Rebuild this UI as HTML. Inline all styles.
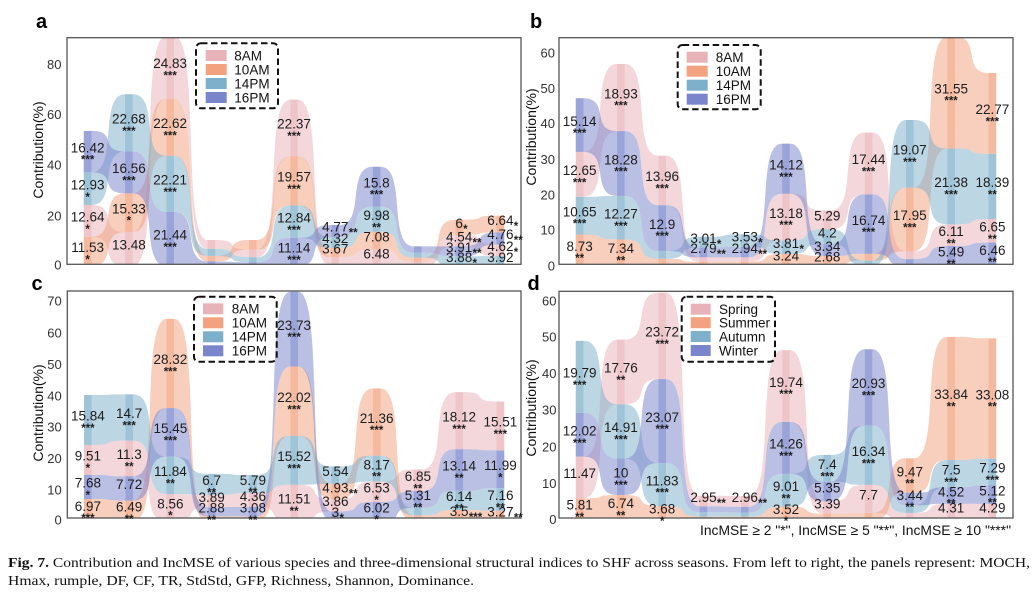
<!DOCTYPE html>
<html><head><meta charset="utf-8">
<style>
html,body{margin:0;padding:0;background:#fff;}
svg{display:block;font-family:"Liberation Sans",Arial,sans-serif;}
.n{font-size:13.5px;fill:#1c1c1c;text-anchor:middle;}
.s{font-size:11.5px;font-weight:bold;fill:#1c1c1c;}
.sb{text-anchor:middle;}
.si{text-anchor:start;}
.t{font-size:13px;fill:#333;text-anchor:end;}
.yl{font-size:14px;fill:#111;text-anchor:middle;}
.pl{font-size:20px;font-weight:bold;fill:#000;}
.lg{font-size:13.5px;fill:#111;}
.cap{font-family:"Liberation Serif",serif;font-size:14px;fill:#111;}
</style></head><body>
<svg width="1034" height="594" viewBox="0 0 1034 594" xmlns="http://www.w3.org/2000/svg">
<defs>
<clipPath id="ca"><rect x="67" y="37.7" width="454" height="226.6"/></clipPath>
<clipPath id="cb"><rect x="559" y="37.7" width="454" height="226.6"/></clipPath>
<clipPath id="cc"><rect x="67.3" y="291" width="453.7" height="227"/></clipPath>
<clipPath id="cd"><rect x="559" y="291.3" width="454" height="226.7"/></clipPath>
</defs>

<text class="pl" x="36" y="28">a</text>
<text class="pl" x="530" y="28">b</text>
<text class="pl" x="31.5" y="290">c</text>
<text class="pl" x="527.5" y="290">d</text>

<text class="yl" transform="translate(43,150) rotate(-90)">Contribution(%)</text>
<text class="yl" transform="translate(536,137) rotate(-90)">Contribution(%)</text>
<text class="yl" transform="translate(43,413) rotate(-90)">Contribution(%)</text>
<text class="yl" transform="translate(536,408) rotate(-90)">Contribution(%)</text>

<g>
<text class="t" x="61.5" y="269.5">0</text>
<text class="t" x="61.5" y="220.3">20</text>
<text class="t" x="61.5" y="169.6">40</text>
<text class="t" x="61.5" y="119">60</text>
<text class="t" x="61.5" y="69">80</text>

<text class="t" x="555" y="270.6">0</text>
<text class="t" x="555" y="234.6">10</text>
<text class="t" x="555" y="199.6">20</text>
<text class="t" x="555" y="164">30</text>
<text class="t" x="555" y="128">40</text>
<text class="t" x="555" y="93">50</text>
<text class="t" x="555" y="57.3">60</text>

<text class="t" x="61.7" y="524.6">0</text>
<text class="t" x="61.7" y="494.6">10</text>
<text class="t" x="61.7" y="463">20</text>
<text class="t" x="61.7" y="431.3">30</text>
<text class="t" x="61.7" y="400.6">40</text>
<text class="t" x="61.7" y="369">50</text>
<text class="t" x="61.7" y="337.3">60</text>
<text class="t" x="61.7" y="305.3">70</text>

<text class="t" x="556.5" y="524">0</text>
<text class="t" x="556.5" y="488">10</text>
<text class="t" x="556.5" y="451.3">20</text>
<text class="t" x="556.5" y="414.6">30</text>
<text class="t" x="556.5" y="378">40</text>
<text class="t" x="556.5" y="341.3">50</text>
<text class="t" x="556.5" y="305.3">60</text>
</g>

<g id="ga" clip-path="url(#ca)"></g>
<g id="gb" clip-path="url(#cb)"></g>
<g id="gc" clip-path="url(#cc)"></g>
<g id="gd" clip-path="url(#cd)"></g>

<g fill="none" stroke="#555" stroke-width="1.3">
<rect x="67" y="37.7" width="454" height="226.6"/>
<rect x="559" y="37.7" width="454" height="226.6"/>
<rect x="67.3" y="291" width="453.7" height="227"/>
<rect x="559" y="291.3" width="454" height="226.7"/>
</g>

<g>
<rect x="196" y="43.3" width="82" height="65" rx="5" fill="none" stroke="#111" stroke-width="2" stroke-dasharray="6.5 3.5"/>
<rect x="205.7" y="50" width="21" height="11" fill="#e8b3b8"/>
<rect x="205.7" y="64" width="21" height="11" fill="#f2a27f"/>
<rect x="205.7" y="78" width="21" height="11" fill="#7fb0cb"/>
<rect x="205.7" y="92" width="21" height="11" fill="#7a85cc"/>
<text class="lg" x="234.3" y="60.3">8AM</text>
<text class="lg" x="234.3" y="74.3">10AM</text>
<text class="lg" x="234.3" y="88.3">14PM</text>
<text class="lg" x="234.3" y="102.3">16PM</text>

<rect x="677.7" y="45" width="83" height="64.3" rx="5" fill="none" stroke="#111" stroke-width="2" stroke-dasharray="6.5 3.5"/>
<rect x="686.7" y="51.7" width="21" height="11" fill="#e8b3b8"/>
<rect x="686.7" y="65.7" width="21" height="11" fill="#f2a27f"/>
<rect x="686.7" y="79.7" width="21" height="11" fill="#7fb0cb"/>
<rect x="686.7" y="93.7" width="21" height="11" fill="#7a85cc"/>
<text class="lg" x="715.7" y="62">8AM</text>
<text class="lg" x="715.7" y="76">10AM</text>
<text class="lg" x="715.7" y="90">14PM</text>
<text class="lg" x="715.7" y="104">16PM</text>

<rect x="194" y="296.7" width="82.7" height="65" rx="5" fill="none" stroke="#111" stroke-width="2" stroke-dasharray="6.5 3.5"/>
<rect x="203" y="303.3" width="20.3" height="11" fill="#e8b3b8"/>
<rect x="203" y="317.3" width="20.3" height="11" fill="#f2a27f"/>
<rect x="203" y="331.3" width="20.3" height="11" fill="#7fb0cb"/>
<rect x="203" y="345.3" width="20.3" height="11" fill="#7a85cc"/>
<text class="lg" x="231.7" y="313.6">8AM</text>
<text class="lg" x="231.7" y="327.6">10AM</text>
<text class="lg" x="231.7" y="341.6">14PM</text>
<text class="lg" x="231.7" y="355.6">16PM</text>

<rect x="681.7" y="296.7" width="93.3" height="65" rx="5" fill="none" stroke="#111" stroke-width="2" stroke-dasharray="6.5 3.5"/>
<rect x="690.7" y="303.7" width="20" height="11" fill="#e8b3b8"/>
<rect x="690.7" y="317.2" width="20" height="11" fill="#f2a27f"/>
<rect x="690.7" y="331" width="20" height="11" fill="#7fb0cb"/>
<rect x="690.7" y="345" width="20" height="11" fill="#7a85cc"/>
<text class="lg" x="719" y="314">Spring</text>
<text class="lg" x="719" y="327.5">Summer</text>
<text class="lg" x="719" y="341.3">Autumn</text>
<text class="lg" x="719" y="355.3">Winter</text>
</g>

<g>
<text id="a0_0" class="n">12.64</text><text id="a0_0s" class="s sb">*</text>
<text id="a0_1" class="n">11.53</text><text id="a0_1s" class="s sb">*</text>
<text id="a0_2" class="n">12.93</text><text id="a0_2s" class="s sb">*</text>
<text id="a0_3" class="n">16.42</text><text id="a0_3s" class="s sb">***</text>
<text id="a1_0" class="n">13.48</text>
<text id="a1_1" class="n">15.33</text><text id="a1_1s" class="s sb">*</text>
<text id="a1_2" class="n">22.68</text><text id="a1_2s" class="s sb">***</text>
<text id="a1_3" class="n">16.56</text><text id="a1_3s" class="s sb">***</text>
<text id="a2_0" class="n">24.83</text><text id="a2_0s" class="s sb">***</text>
<text id="a2_1" class="n">22.62</text><text id="a2_1s" class="s sb">***</text>
<text id="a2_2" class="n">22.21</text><text id="a2_2s" class="s sb">***</text>
<text id="a2_3" class="n">21.44</text><text id="a2_3s" class="s sb">***</text>
<text id="a5_0" class="n">22.37</text><text id="a5_0s" class="s sb">***</text>
<text id="a5_1" class="n">19.57</text><text id="a5_1s" class="s sb">***</text>
<text id="a5_2" class="n">12.84</text><text id="a5_2s" class="s sb">***</text>
<text id="a5_3" class="n">11.14</text><text id="a5_3s" class="s sb">***</text>
<text id="a6_1" class="n">3.67</text>
<text id="a6_2" class="n">4.32</text>
<text id="a6_3" class="n">4.77</text><text id="a6_3s" class="s si">**</text>
<text id="a7_0" class="n">6.48</text>
<text id="a7_1" class="n">7.08</text>
<text id="a7_2" class="n">9.98</text><text id="a7_2s" class="s sb">**</text>
<text id="a7_3" class="n">15.8</text><text id="a7_3s" class="s sb">***</text>
<text id="a9_0" class="n">4.54</text><text id="a9_0s" class="s si">**</text>
<text id="a9_1" class="n">6</text><text id="a9_1s" class="s si">*</text>
<text id="a9_2" class="n">3.88</text><text id="a9_2s" class="s si">*</text>
<text id="a9_3" class="n">3.91</text><text id="a9_3s" class="s si">**</text>
<text id="a10_0" class="n">4.62</text><text id="a10_0s" class="s si">*</text>
<text id="a10_1" class="n">6.64</text><text id="a10_1s" class="s si">*</text>
<text id="a10_2" class="n">3.92</text>
<text id="a10_3" class="n">4.76</text><text id="a10_3s" class="s si">**</text>
</g>

<g>
<text id="b0_0" class="n">12.65</text><text id="b0_0s" class="s sb">***</text>
<text id="b0_1" class="n">8.73</text><text id="b0_1s" class="s sb">**</text>
<text id="b0_2" class="n">10.65</text><text id="b0_2s" class="s sb">***</text>
<text id="b0_3" class="n">15.14</text><text id="b0_3s" class="s sb">***</text>
<text id="b1_0" class="n">18.93</text><text id="b1_0s" class="s sb">***</text>
<text id="b1_1" class="n">7.34</text><text id="b1_1s" class="s sb">**</text>
<text id="b1_2" class="n">12.27</text><text id="b1_2s" class="s sb">***</text>
<text id="b1_3" class="n">18.28</text><text id="b1_3s" class="s sb">***</text>
<text id="b2_0" class="n">13.96</text><text id="b2_0s" class="s sb">***</text>
<text id="b2_3" class="n">12.9</text><text id="b2_3s" class="s sb">***</text>
<text id="b3_2" class="n">3.01</text><text id="b3_2s" class="s si">*</text>
<text id="b3_3" class="n">2.79</text><text id="b3_3s" class="s si">**</text>
<text id="b4_2" class="n">3.53</text><text id="b4_2s" class="s si">*</text>
<text id="b4_3" class="n">2.94</text><text id="b4_3s" class="s si">**</text>
<text id="b5_0" class="n">13.18</text><text id="b5_0s" class="s sb">***</text>
<text id="b5_1" class="n">3.24</text>
<text id="b5_2" class="n">3.81</text><text id="b5_2s" class="s si">*</text>
<text id="b5_3" class="n">14.12</text><text id="b5_3s" class="s sb">***</text>
<text id="b6_0" class="n">5.29</text>
<text id="b6_1" class="n">2.68</text>
<text id="b6_2" class="n">4.2</text>
<text id="b6_3" class="n">3.34</text>
<text id="b7_0" class="n">17.44</text><text id="b7_0s" class="s sb">***</text>
<text id="b7_3" class="n">16.74</text><text id="b7_3s" class="s sb">***</text>
<text id="b8_1" class="n">17.95</text><text id="b8_1s" class="s sb">***</text>
<text id="b8_2" class="n">19.07</text><text id="b8_2s" class="s sb">***</text>
<text id="b9_0" class="n">6.11</text><text id="b9_0s" class="s sb">**</text>
<text id="b9_1" class="n">31.55</text><text id="b9_1s" class="s sb">***</text>
<text id="b9_2" class="n">21.38</text><text id="b9_2s" class="s sb">***</text>
<text id="b9_3" class="n">5.49</text><text id="b9_3s" class="s sb">**</text>
<text id="b10_0" class="n">6.65</text><text id="b10_0s" class="s sb">**</text>
<text id="b10_1" class="n">22.77</text><text id="b10_1s" class="s sb">***</text>
<text id="b10_2" class="n">18.39</text><text id="b10_2s" class="s sb">**</text>
<text id="b10_3" class="n">6.46</text><text id="b10_3s" class="s sb">**</text>
</g>

<g>
<text id="c0_0" class="n">9.51</text><text id="c0_0s" class="s sb">*</text>
<text id="c0_1" class="n">6.97</text><text id="c0_1s" class="s sb">***</text>
<text id="c0_2" class="n">15.84</text><text id="c0_2s" class="s sb">***</text>
<text id="c0_3" class="n">7.68</text><text id="c0_3s" class="s sb">*</text>
<text id="c1_0" class="n">11.3</text><text id="c1_0s" class="s sb">**</text>
<text id="c1_1" class="n">6.49</text><text id="c1_1s" class="s sb">**</text>
<text id="c1_2" class="n">14.7</text><text id="c1_2s" class="s sb">***</text>
<text id="c1_3" class="n">7.72</text>
<text id="c2_0" class="n">8.56</text><text id="c2_0s" class="s sb">*</text>
<text id="c2_1" class="n">28.32</text><text id="c2_1s" class="s sb">***</text>
<text id="c2_2" class="n">11.84</text><text id="c2_2s" class="s sb">**</text>
<text id="c2_3" class="n">15.45</text><text id="c2_3s" class="s sb">***</text>
<text id="c3_0" class="n">3.89</text>
<text id="c3_2" class="n">6.7</text><text id="c3_2s" class="s sb">**</text>
<text id="c3_3" class="n">2.88</text><text id="c3_3s" class="s sb">**</text>
<text id="c4_0" class="n">4.36</text>
<text id="c4_2" class="n">5.79</text><text id="c4_2s" class="s sb">**</text>
<text id="c4_3" class="n">3.08</text><text id="c4_3s" class="s sb">**</text>
<text id="c5_0" class="n">11.51</text><text id="c5_0s" class="s sb">**</text>
<text id="c5_1" class="n">22.02</text><text id="c5_1s" class="s sb">***</text>
<text id="c5_2" class="n">15.52</text><text id="c5_2s" class="s sb">***</text>
<text id="c5_3" class="n">23.73</text><text id="c5_3s" class="s sb">***</text>
<text id="c6_0" class="n">3.86</text>
<text id="c6_1" class="n">4.93</text><text id="c6_1s" class="s si">**</text>
<text id="c6_2" class="n">5.54</text>
<text id="c6_3" class="n">3</text><text id="c6_3s" class="s si">*</text>
<text id="c7_0" class="n">6.53</text><text id="c7_0s" class="s sb">*</text>
<text id="c7_1" class="n">21.36</text><text id="c7_1s" class="s sb">***</text>
<text id="c7_2" class="n">8.17</text><text id="c7_2s" class="s sb">**</text>
<text id="c7_3" class="n">6.02</text><text id="c7_3s" class="s sb">*</text>
<text id="c8_0" class="n">6.85</text><text id="c8_0s" class="s sb">**</text>
<text id="c8_3" class="n">5.31</text><text id="c8_3s" class="s sb">**</text>
<text id="c9_0" class="n">18.12</text><text id="c9_0s" class="s sb">***</text>
<text id="c9_1" class="n">3.5</text><text id="c9_1s" class="s si">***</text>
<text id="c9_2" class="n">6.14</text><text id="c9_2s" class="s sb">**</text>
<text id="c9_3" class="n">13.14</text><text id="c9_3s" class="s sb">**</text>
<text id="c10_0" class="n">15.51</text><text id="c10_0s" class="s sb">***</text>
<text id="c10_1" class="n">3.27</text><text id="c10_1s" class="s si">**</text>
<text id="c10_2" class="n">7.16</text><text id="c10_2s" class="s sb">**</text>
<text id="c10_3" class="n">11.99</text><text id="c10_3s" class="s sb">*</text>
</g>

<g>
<text id="d0_0" class="n">11.47</text>
<text id="d0_1" class="n">5.81</text><text id="d0_1s" class="s sb">**</text>
<text id="d0_2" class="n">19.79</text><text id="d0_2s" class="s sb">***</text>
<text id="d0_3" class="n">12.02</text><text id="d0_3s" class="s sb">***</text>
<text id="d1_0" class="n">17.76</text><text id="d1_0s" class="s sb">**</text>
<text id="d1_1" class="n">6.74</text><text id="d1_1s" class="s sb">**</text>
<text id="d1_2" class="n">14.91</text><text id="d1_2s" class="s sb">***</text>
<text id="d1_3" class="n">10</text><text id="d1_3s" class="s sb">***</text>
<text id="d2_0" class="n">23.72</text><text id="d2_0s" class="s sb">***</text>
<text id="d2_1" class="n">3.68</text><text id="d2_1s" class="s sb">*</text>
<text id="d2_2" class="n">11.83</text><text id="d2_2s" class="s sb">***</text>
<text id="d2_3" class="n">23.07</text><text id="d2_3s" class="s sb">***</text>
<text id="d3_0" class="n">2.95</text><text id="d3_0s" class="s si">**</text>
<text id="d4_0" class="n">2.96</text><text id="d4_0s" class="s si">**</text>
<text id="d5_0" class="n">19.74</text><text id="d5_0s" class="s sb">***</text>
<text id="d5_1" class="n">3.52</text><text id="d5_1s" class="s sb">*</text>
<text id="d5_2" class="n">9.01</text><text id="d5_2s" class="s sb">**</text>
<text id="d5_3" class="n">14.26</text><text id="d5_3s" class="s sb">***</text>
<text id="d6_0" class="n">3.39</text>
<text id="d6_2" class="n">7.4</text><text id="d6_2s" class="s sb">***</text>
<text id="d6_3" class="n">5.35</text>
<text id="d7_0" class="n">7.7</text>
<text id="d7_2" class="n">16.34</text><text id="d7_2s" class="s sb">***</text>
<text id="d7_3" class="n">20.93</text><text id="d7_3s" class="s sb">***</text>
<text id="d8_1" class="n">9.47</text><text id="d8_1s" class="s sb">**</text>
<text id="d8_3" class="n">3.44</text><text id="d8_3s" class="s sb">**</text>
<text id="d9_0" class="n">4.31</text>
<text id="d9_1" class="n">33.84</text><text id="d9_1s" class="s sb">**</text>
<text id="d9_2" class="n">7.5</text><text id="d9_2s" class="s sb">***</text>
<text id="d9_3" class="n">4.52</text><text id="d9_3s" class="s sb">**</text>
<text id="d10_0" class="n">4.29</text>
<text id="d10_1" class="n">33.08</text><text id="d10_1s" class="s sb">**</text>
<text id="d10_2" class="n">7.29</text><text id="d10_2s" class="s sb">***</text>
<text id="d10_3" class="n">5.12</text><text id="d10_3s" class="s sb">**</text>
</g>

<text x="700" y="535" font-size="13.5" fill="#111" textLength="311" lengthAdjust="spacingAndGlyphs">IncMSE ≥ 2 "*", IncMSE ≥ 5 "**", IncMSE ≥ 10 "***"</text>

<text class="cap" x="8" y="567" textLength="1022" lengthAdjust="spacingAndGlyphs"><tspan font-weight="bold">Fig. 7.</tspan> Contribution and IncMSE of various species and three-dimensional structural indices to SHF across seasons. From left to right, the panels represent: MOCH,</text>
<text class="cap" x="8" y="585" textLength="466" lengthAdjust="spacingAndGlyphs">Hmax, rumple, DF, CF, TR, StdStd, GFP, Richness, Shannon, Dominance.</text>
</svg>

<script>
(function(){
var COL=['#e8b3b8','#f2a27f','#7fb0cb','#7a85cc'];
var P={
a:{x0:67,x1:521,y0:266,k:2.524,d:[
[12.64,11.53,12.93,16.42],
[13.48,15.33,22.68,16.56],
[24.83,22.62,22.21,21.44],
[3.5,2.2,2.8,1.8],
[3.0,3.8,2.0,1.5],
[22.37,19.57,12.84,11.14],
[3.5,3.67,4.32,4.77],
[6.48,7.08,9.98,15.8],
[1.6,1.7,2.0,2.5],
[4.54,6,3.88,3.91],
[4.62,6.64,3.92,4.76]]},
b:{x0:559,x1:1013,y0:265.5,k:3.547,d:[
[12.65,8.73,10.65,15.14],
[18.93,7.34,12.27,18.28],
[13.96,1.9,2.2,12.9],
[1.3,1.0,3.01,2.79],
[1.3,1.0,3.53,2.94],
[13.18,3.24,3.81,14.12],
[5.29,2.68,4.2,3.34],
[17.44,1.9,1.4,16.74],
[2.2,17.95,19.07,1.8],
[6.11,31.55,21.38,5.49],
[6.65,22.77,18.39,6.46]]},
c:{x0:67.3,x1:521,y0:521,k:3.15,d:[
[9.51,6.97,15.84,7.68],
[11.3,6.49,14.7,7.72],
[8.56,28.32,11.84,15.45],
[3.89,1.5,6.7,2.88],
[4.36,1.4,5.79,3.08],
[11.51,22.02,15.52,23.73],
[3.86,4.93,5.54,3],
[6.53,21.36,8.17,6.02],
[6.85,1.8,2.4,5.31],
[18.12,3.5,6.14,13.14],
[15.51,3.27,7.16,11.99]]},
d:{x0:559,x1:1013,y0:519.5,k:3.64,d:[
[11.47,5.81,19.79,12.02],
[17.76,6.74,14.91,10],
[23.72,3.68,11.83,23.07],
[2.95,0.8,1.2,1.6],
[2.96,0.8,1.1,1.6],
[19.74,3.52,9.01,14.26],
[3.39,1.6,7.4,5.35],
[7.7,1.8,16.34,20.93],
[1.8,9.47,2.1,3.44],
[4.31,33.84,7.5,4.52],
[4.29,33.08,7.29,5.12]]}
};
var NS='http://www.w3.org/2000/svg';
var HW=3.9, C=0.8;
function mk(tag,attrs){var e=document.createElementNS(NS,tag);for(var a in attrs)e.setAttribute(a,attrs[a]);return e;}
for(var id in P){
  var p=P[id], g=document.getElementById('g'+id);
  var n=p.d.length, sp=(p.x1-p.x0)/n;
  var cx=function(i){return p.x0+sp*(i+0.5);};
  var Y=function(v){return p.y0-p.k*v;};
  var lo=[],hi=[];
  for(var i=0;i<n;i++){
    var vals=p.d[i];
    var ord=[0,1,2,3].sort(function(a,b){return vals[a]-vals[b];});
    var acc=0; lo[i]=[];hi[i]=[];
    for(var j=0;j<4;j++){var s=ord[j];lo[i][s]=acc;acc+=vals[s];hi[i][s]=acc;}
  }
  for(var s=0;s<4;s++){
    for(var i=0;i<n-1;i++){
      var xa=cx(i)+HW, xb=cx(i+1)-HW, gw=xb-xa;
      var a1=Y(hi[i][s]), b1=Y(hi[i+1][s]), a0=Y(lo[i][s]), b0=Y(lo[i+1][s]);
      var c1=xa+C*gw, c2=xb-C*gw;
      var d='M'+xa+','+a1+'C'+c1+','+a1+' '+c2+','+b1+' '+xb+','+b1+'L'+xb+','+b0+'C'+c2+','+b0+' '+c1+','+a0+' '+xa+','+a0+'Z';
      g.appendChild(mk('path',{d:d,fill:COL[s],'fill-opacity':'0.52'}));
    }
  }
  for(var i=0;i<n;i++)for(var s=0;s<4;s++){
    g.appendChild(mk('rect',{x:cx(i)-HW,y:Y(hi[i][s]),width:2*HW,height:p.k*p.d[i][s],fill:COL[s],'fill-opacity':'0.75'}));
  }
  for(var i=0;i<n;i++)for(var s=0;s<4;s++){
    var el=document.getElementById(id+i+'_'+s); if(!el) continue;
    var c=Y((lo[i][s]+hi[i][s])/2), x=cx(i), nb=c+0.75;
    el.setAttribute('x',x); el.setAttribute('y',nb);
    var st=document.getElementById(id+i+'_'+s+'s');
    if(st){
      if(st.getAttribute('class').indexOf('si')>=0){
        var w=el.getComputedTextLength();
        st.setAttribute('x',x+w/2+0.3); st.setAttribute('y',nb+5);
      } else {
        st.setAttribute('x',x); st.setAttribute('y',c+12.1);
      }
    }
  }
}
})();
</script>
</body></html>
